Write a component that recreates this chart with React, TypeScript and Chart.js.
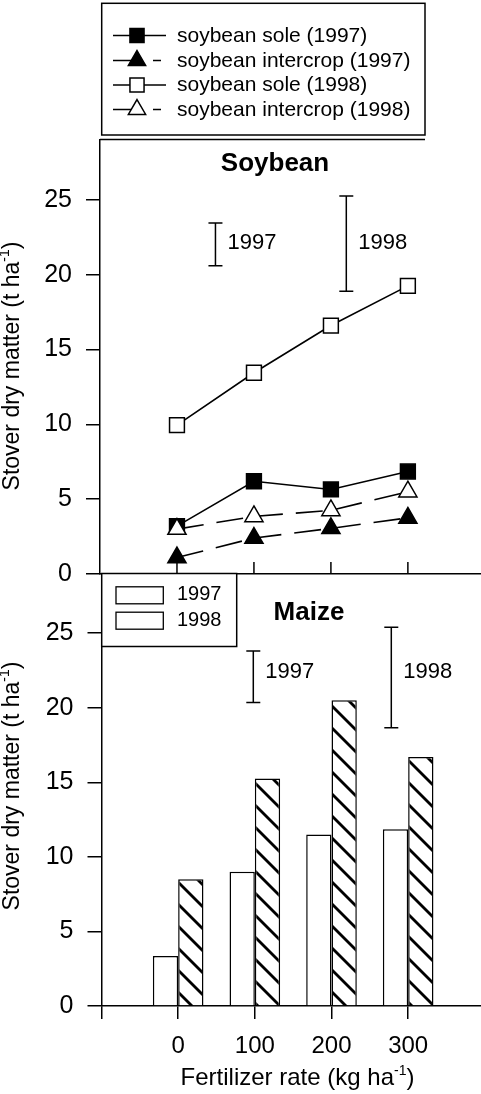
import React, { useEffect, useRef } from 'react';
import { Chart, registerables } from 'chart.js';

Chart.register(...registerables);

const FONT = '"Liberation Sans", Arial, Helvetica, sans-serif';
const W = 481;
const H = 1094;

// ---------- data ----------
const fertilizerRates = [0, 100, 200, 300];
const soybeanSole1997 = [3.2, 6.2, 5.65, 6.85];
const soybeanIntercrop1997 = [1.1, 2.4, 3.05, 3.75];
const soybeanSole1998 = [9.95, 13.45, 16.6, 19.25];
const soybeanIntercrop1998 = [3.0, 3.85, 4.25, 5.5];
const maize1997 = [3.35, 9.0, 11.5, 11.85];
const maize1998 = [8.5, 15.25, 20.5, 16.7];
const yTickValues = [0, 5, 10, 15, 20, 25];
const soybeanLegendLabels = [
  'soybean sole (1997)',
  'soybean intercrop (1997)',
  'soybean sole (1998)',
  'soybean intercrop (1998)',
];
const maizeLegendLabels = ['1997', '1998'];
const errorBarYears = ['1997', '1998'];
const soybeanErrorX = [50, 220];
const soybeanErrorLow = [20.6, 18.9];
const soybeanErrorHigh = [23.45, 25.25];
const maizeErrorX = [98, 278];
const maizeErrorLow = [20.35, 18.65];
const maizeErrorHigh = [23.8, 25.4];

const X_MIN = -100;
const X_MAX = 395;
const Y_MAX = 29;

// ---------- layout ----------
const TOP_AREA_TOP = 140;
const TOP_AREA_BOTTOM = 574;
const TOP_LEFT = 100;
const BOT_AREA_TOP = 573.5;
const BOT_AREA_BOTTOM = 1006;
const BOT_LEFT = 101.5;

type Seg = { text: string; sup?: boolean };
const yTitleSegs: Seg[] = [{ text: 'Stover dry matter (t ha' }, { text: '-1', sup: true }, { text: ')' }];
const xTitleSegs: Seg[] = [{ text: 'Fertilizer rate (kg ha' }, { text: '-1', sup: true }, { text: ')' }];

function richWidth(ctx: CanvasRenderingContext2D, segs: Seg[], size: number) {
  let w = 0;
  for (const s of segs) {
    ctx.font = `${s.sup ? Math.round(size * 0.6) : size}px ${FONT}`;
    w += ctx.measureText(s.text).width;
  }
  return w;
}
function drawRich(ctx: CanvasRenderingContext2D, segs: Seg[], x: number, y: number, size: number) {
  let cx = x;
  ctx.textBaseline = 'alphabetic';
  ctx.textAlign = 'left';
  for (const s of segs) {
    ctx.font = `${s.sup ? Math.round(size * 0.6) : size}px ${FONT}`;
    ctx.fillText(s.text, cx, s.sup ? y - size * 0.42 : y);
    cx += ctx.measureText(s.text).width;
  }
}
function drawYTitle(ctx: CanvasRenderingContext2D, baselineX: number, centerY: number) {
  const size = 23;
  ctx.save();
  ctx.fillStyle = '#000';
  ctx.translate(baselineX, centerY);
  ctx.rotate(-Math.PI / 2);
  const w = richWidth(ctx, yTitleSegs, size);
  drawRich(ctx, yTitleSegs, -w / 2, 0, size);
  ctx.restore();
}

function drawMarker(ctx: CanvasRenderingContext2D, style: string, x: number, y: number, r: number, fill: string) {
  ctx.beginPath();
  if (style === 'rect') {
    const s = r * Math.SQRT1_2;
    ctx.rect(x - s, y - s, 2 * s, 2 * s);
  } else {
    const a = (2 * Math.PI) / 3;
    ctx.moveTo(x, y - r);
    ctx.lineTo(x + r * Math.sin(a), y - r * Math.cos(a));
    ctx.lineTo(x + r * Math.sin(2 * a), y - r * Math.cos(2 * a));
    ctx.closePath();
  }
  ctx.fillStyle = fill;
  ctx.fill();
  ctx.lineWidth = 1.5;
  ctx.strokeStyle = '#000';
  ctx.stroke();
}

function drawErrorBars(
  chart: any,
  xs: number[],
  lows: number[],
  highs: number[],
  labelValue: number
) {
  const { ctx, scales } = chart;
  const x = scales.x;
  const y = scales.y;
  ctx.save();
  ctx.strokeStyle = '#000';
  ctx.fillStyle = '#000';
  ctx.lineWidth = 1.5;
  ctx.font = `22px ${FONT}`;
  ctx.textAlign = 'left';
  ctx.textBaseline = 'middle';
  xs.forEach((xv, i) => {
    const px = x.getPixelForValue(xv);
    const y1 = y.getPixelForValue(highs[i]);
    const y2 = y.getPixelForValue(lows[i]);
    ctx.beginPath();
    ctx.moveTo(px, y1);
    ctx.lineTo(px, y2);
    ctx.moveTo(px - 7, y1);
    ctx.lineTo(px + 7, y1);
    ctx.moveTo(px - 7, y2);
    ctx.lineTo(px + 7, y2);
    ctx.stroke();
    ctx.fillText(errorBarYears[i], px + 12, y.getPixelForValue(labelValue));
  });
  ctx.restore();
}

const soybeanDecor = {
  id: 'soybeanDecor',
  beforeDatasetsDraw(chart: any) {
    const { ctx, chartArea, scales } = chart;
    ctx.save();
    ctx.strokeStyle = '#000';
    ctx.lineWidth = 1.5;
    for (const v of fertilizerRates) {
      const px = scales.x.getPixelForValue(v);
      ctx.beginPath();
      ctx.moveTo(px, chartArea.bottom);
      ctx.lineTo(px, chartArea.bottom - 12);
      ctx.stroke();
    }
    ctx.restore();
  },
  afterDraw(chart: any) {
    const { ctx, chartArea } = chart;
    ctx.save();
    // legend box
    ctx.strokeStyle = '#000';
    ctx.lineWidth = 1.5;
    ctx.strokeRect(101.7, 3.3, 323.3, 131.7);
    ctx.beginPath();
    ctx.moveTo(chartArea.left, 139.5);
    ctx.lineTo(425, 139.5);
    ctx.stroke();
    const rows = [35.5, 60.5, 85, 109.5];
    chart.data.datasets.forEach((ds: any, i: number) => {
      const ry = rows[i];
      ctx.strokeStyle = '#000';
      ctx.lineWidth = 1.6;
      ctx.beginPath();
      if (ds.borderDash && ds.borderDash.length) {
        ctx.moveTo(113, ry);
        ctx.lineTo(137, ry);
        ctx.moveTo(153, ry);
        ctx.lineTo(161, ry);
      } else {
        ctx.moveTo(113, ry);
        ctx.lineTo(166, ry);
      }
      ctx.stroke();
      drawMarker(ctx, ds.pointStyle, 137, ry, ds.pointRadius * 0.95, ds.pointBackgroundColor);
      ctx.fillStyle = '#000';
      ctx.font = `21px ${FONT}`;
      ctx.textAlign = 'left';
      ctx.textBaseline = 'middle';
      ctx.fillText(ds.label, 177, ry + 0.5);
    });
    // panel title
    ctx.fillStyle = '#000';
    ctx.font = `bold 26px ${FONT}`;
    ctx.textAlign = 'center';
    ctx.textBaseline = 'alphabetic';
    ctx.fillText('Soybean', 275, 171);
    ctx.restore();
    drawErrorBars(chart, soybeanErrorX, soybeanErrorLow, soybeanErrorHigh, 22.15);
    drawYTitle(ctx, 18.5, 366);
  },
};

const maizeDecor = {
  id: 'maizeDecor',
  afterDraw(chart: any) {
    const { ctx } = chart;
    ctx.save();
    ctx.strokeStyle = '#000';
    ctx.lineWidth = 1.5;
    ctx.fillStyle = '#fff';
    ctx.fillRect(101.7, 573.5, 135, 73);
    ctx.strokeRect(101.7, 573.5, 135, 73);
    const rowsY = [595.3, 620.7];
    maizeLegendLabels.forEach((lab, i) => {
      ctx.fillStyle = '#fff';
      ctx.fillRect(116, rowsY[i] - 8.5, 47.3, 17);
      ctx.lineWidth = 1.3;
      ctx.strokeRect(116, rowsY[i] - 8.5, 47.3, 17);
      ctx.fillStyle = '#000';
      ctx.font = `20px ${FONT}`;
      ctx.textAlign = 'left';
      ctx.textBaseline = 'middle';
      ctx.fillText(lab, 177, rowsY[i] - 0.5);
    });
    ctx.font = `bold 26px ${FONT}`;
    ctx.textAlign = 'center';
    ctx.textBaseline = 'alphabetic';
    ctx.fillText('Maize', 309, 620);
    // x axis title
    const w = richWidth(ctx, xTitleSegs, 24);
    ctx.fillStyle = '#000';
    drawRich(ctx, xTitleSegs, 297.5 - w / 2, 1085, 24);
    ctx.restore();
    drawErrorBars(chart, maizeErrorX, maizeErrorLow, maizeErrorHigh, 22.4);
    drawYTitle(ctx, 18.5, 786);
  },
};

function makeHatch(ctx: CanvasRenderingContext2D) {
  const size = 22;
  const c = document.createElement('canvas');
  c.width = size;
  c.height = size;
  const g = c.getContext('2d')!;
  g.fillStyle = '#fff';
  g.fillRect(0, 0, size, size);
  g.strokeStyle = '#000';
  g.lineWidth = 2.8;
  for (const k of [-size, 0, size]) {
    g.beginPath();
    g.moveTo(-4, -4 + k);
    g.lineTo(size + 4, size + 4 + k);
    g.stroke();
  }
  return ctx.createPattern(c, 'repeat');
}

const pts = (vals: number[]) => fertilizerRates.map((x, i) => ({ x, y: vals[i] }));

function yScale(left: number) {
  return {
    type: 'linear',
    min: 0,
    max: Y_MAX,
    bounds: 'data',
    afterBuildTicks: (s: any) => {
      s.ticks = yTickValues.map((value) => ({ value }));
    },
    afterFit: (s: any) => {
      s.width = left;
    },
    ticks: { font: { family: FONT, size: 25 }, color: '#000', padding: 14 },
    grid: { drawOnChartArea: false, drawTicks: true, tickLength: 14, color: '#000', lineWidth: 1.5 },
    border: { display: true, color: '#000', width: 1.5 },
  };
}

export default function App() {
  const topRef = useRef<HTMLCanvasElement>(null);
  const botRef = useRef<HTMLCanvasElement>(null);

  useEffect(() => {
    const common = { borderColor: '#000', borderWidth: 1.6, pointBorderColor: '#000', pointBorderWidth: 1.5, pointRadius: 10.5 };
    const top = new Chart(topRef.current as HTMLCanvasElement, {
      type: 'line',
      data: {
        datasets: [
          { ...common, label: soybeanLegendLabels[0], data: pts(soybeanSole1997), pointStyle: 'rect', pointBackgroundColor: '#000', borderDash: [], order: 2 },
          { ...common, label: soybeanLegendLabels[1], data: pts(soybeanIntercrop1997), pointStyle: 'triangle', pointBackgroundColor: '#000', borderDash: [27, 13], order: 3 },
          { ...common, label: soybeanLegendLabels[2], data: pts(soybeanSole1998), pointStyle: 'rect', pointBackgroundColor: '#fff', borderDash: [], order: 4 },
          { ...common, label: soybeanLegendLabels[3], data: pts(soybeanIntercrop1998), pointStyle: 'triangle', pointBackgroundColor: '#fff', borderDash: [27, 13], order: 1 },
        ] as any,
      },
      options: {
        responsive: false,
        animation: false,
        devicePixelRatio: 1,
        layout: { autoPadding: false, padding: { top: TOP_AREA_TOP, left: 0, right: 0, bottom: 0 } },
        plugins: { legend: { display: false }, tooltip: { enabled: false } },
        scales: {
          x: {
            type: 'linear',
            min: X_MIN,
            max: X_MAX,
            bounds: 'data',
            afterBuildTicks: (s: any) => {
              s.ticks = fertilizerRates.map((value) => ({ value }));
            },
            afterFit: (s: any) => {
              s.height = H - TOP_AREA_BOTTOM;
            },
            ticks: { display: false },
            grid: { display: false },
            border: { display: true, color: '#000', width: 1.5 },
          },
          y: yScale(TOP_LEFT),
        } as any,
      },
      plugins: [soybeanDecor],
    });

    const bctx = (botRef.current as HTMLCanvasElement).getContext('2d')!;
    const hatch = makeHatch(bctx);
    const bot = new Chart(botRef.current as HTMLCanvasElement, {
      type: 'bar',
      data: {
        datasets: [
          { label: maizeLegendLabels[0], data: pts(maize1997), backgroundColor: '#fff', borderColor: '#000', borderWidth: 1.5, categoryPercentage: 0.66, barPercentage: 1 },
          { label: maizeLegendLabels[1], data: pts(maize1998), backgroundColor: hatch, borderColor: '#000', borderWidth: 1.5, categoryPercentage: 0.66, barPercentage: 1 },
        ] as any,
      },
      options: {
        responsive: false,
        animation: false,
        devicePixelRatio: 1,
        layout: { autoPadding: false, padding: { top: BOT_AREA_TOP, left: 0, right: 0, bottom: 0 } },
        plugins: { legend: { display: false }, tooltip: { enabled: false } },
        scales: {
          x: {
            type: 'linear',
            min: X_MIN,
            max: X_MAX,
            bounds: 'data',
            offset: false,
            afterBuildTicks: (s: any) => {
              s.ticks = [X_MIN, ...fertilizerRates].map((value) => ({ value }));
            },
            afterFit: (s: any) => {
              s.height = H - BOT_AREA_BOTTOM;
            },
            ticks: {
              font: { family: FONT, size: 24 },
              color: '#000',
              padding: 13,
              maxRotation: 0,
              autoSkip: false,
              callback: (v: any) => (Number(v) < 0 ? '' : String(v)),
            },
            grid: { offset: false, drawOnChartArea: false, drawTicks: true, tickLength: 13, color: '#000', lineWidth: 1.5 },
            border: { display: true, color: '#000', width: 1.5 },
          },
          y: yScale(BOT_LEFT),
        } as any,
      },
      plugins: [maizeDecor],
    });

    return () => {
      top.destroy();
      bot.destroy();
    };
  }, []);

  return (
    <div style={{ position: 'absolute', left: 0, top: 0, width: W, height: H, background: '#fff' }}>
      <canvas ref={topRef} width={W} height={H} style={{ position: 'absolute', left: 0, top: 0, width: W, height: H }} />
      <canvas ref={botRef} width={W} height={H} style={{ position: 'absolute', left: 0, top: 0, width: W, height: H }} />
    </div>
  );
}
